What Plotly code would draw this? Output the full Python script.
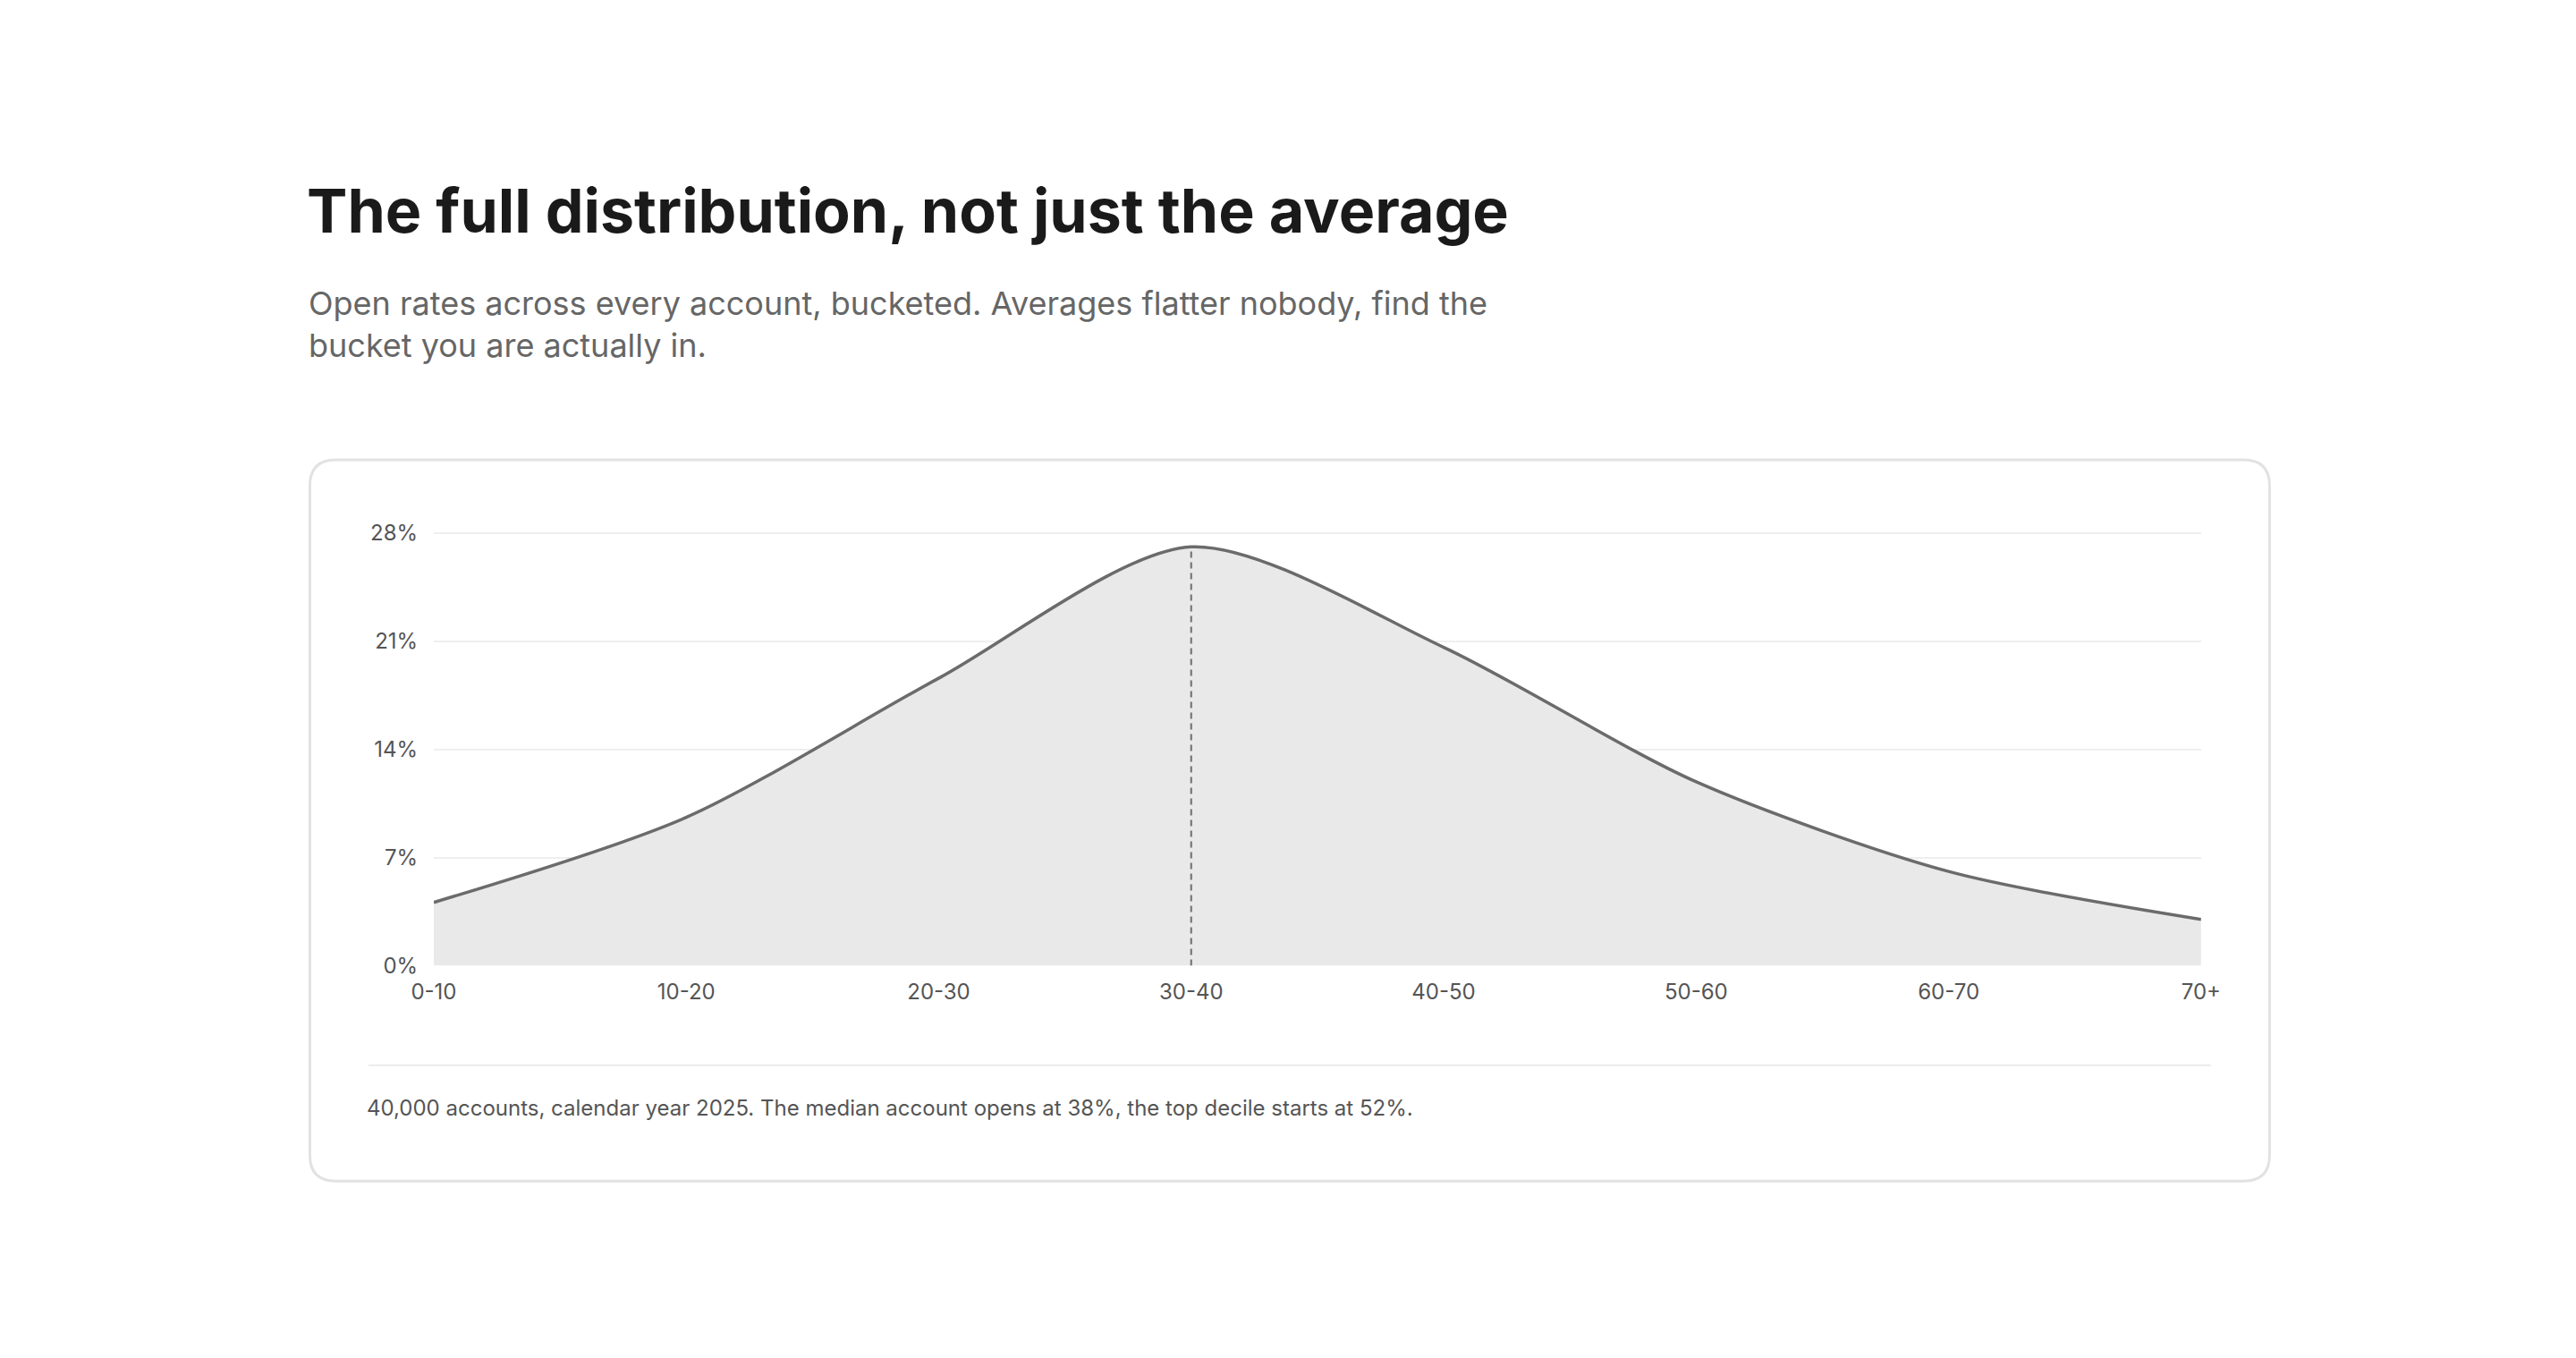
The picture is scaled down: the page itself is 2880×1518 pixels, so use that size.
import plotly.graph_objects as go

# open-rate buckets and share of accounts (%)
buckets = ["0-10", "10-20", "20-30", "30-40", "40-50", "50-60", "60-70", "70+"]
share = [4.1, 9.6, 18.6, 27.1, 20.6, 11.9, 6.1, 3.0]
y_ticks = [0, 7, 14, 21, 28]
median_bucket = "30-40"

W, H = 1550, 817  # reference layout units
px = lambda v: ((v - 11.6) / 0.9967) / W
py = lambda v: 1 - ((v - 6) / 0.993) / H

xs = list(range(len(buckets)))
mx = buckets.index(median_bucket)

fig = go.Figure()
fig.add_scatter(
    x=xs, y=share, mode="lines", line=dict(color="#6b6b6b", width=3.5, shape="spline", smoothing=0.8),
    fill="tozeroy", fillcolor="#e9e9e9", hoverinfo="skip", showlegend=False,
)
fig.add_scatter(
    x=[mx, mx], y=[0, share[mx]], mode="lines",
    line=dict(color="#777777", width=2.2, dash="7px,5px"), hoverinfo="skip", showlegend=False,
)

# card with rounded corners
x0, x1, y0, y1 = px(183), px(1385), py(721), py(279)
rx, ry = 16 / W, 16 / H
card = (f"M{x0+rx},{y1} L{x1-rx},{y1} Q{x1},{y1} {x1},{y1-ry} L{x1},{y0+ry} Q{x1},{y0} {x1-rx},{y0} "
        f"L{x0+rx},{y0} Q{x0},{y0} {x0},{y0+ry} L{x0},{y1-ry} Q{x0},{y1} {x0+rx},{y1} Z")

fig.update_layout(
    paper_bgcolor="white", plot_bgcolor="white",
    margin=dict(l=0, r=0, t=0, b=0),
    font=dict(family="Inter, sans-serif", color="#555555"),
    xaxis=dict(domain=[px(259), px(1343)], range=[0, len(buckets) - 1], tickvals=xs, ticktext=buckets,
               showgrid=False, zeroline=False, showline=False, ticks="outside", ticklen=8,
               tickcolor="rgba(0,0,0,0)", tickfont=dict(size=24, color="#555")),
    yaxis=dict(domain=[py(589), py(320)], range=[0, 28.4], tickvals=y_ticks,
               ticktext=[f"{v}%" for v in y_ticks], showgrid=True, gridcolor="#efefef", gridwidth=2,
               zeroline=False, ticks="outside", ticklen=12, tickcolor="rgba(0,0,0,0)",
               tickfont=dict(size=24, color="#555")),
    shapes=[
        dict(type="path", path=card, xref="paper", yref="paper",
             line=dict(color="#e2e2e2", width=3), layer="below"),
        dict(type="line", xref="paper", yref="paper", x0=px(219), x1=px(1349), y0=py(650), y1=py(650),
             line=dict(color="#ebebeb", width=2)),
    ],
    annotations=[
        dict(text="<b>The full distribution, not just the average</b>", xref="paper", yref="paper",
             x=px(180), y=py(126), xanchor="left", yanchor="middle", showarrow=False,
             font=dict(size=68, color="#1a1a1a")),
        dict(text="Open rates across every account, bucketed. Averages flatter nobody, find the<br>bucket you are actually in.",
             xref="paper", yref="paper", x=px(181), y=py(196), xanchor="left", yanchor="middle",
             align="left", showarrow=False, font=dict(size=36, color="#666666")),
        dict(text="40,000 accounts, calendar year 2025. The median account opens at 38%, the top decile starts at 52%.",
             xref="paper", yref="paper", x=px(217), y=py(676), xanchor="left", yanchor="middle",
             showarrow=False, font=dict(size=24, color="#555555")),
    ],
)

fig.write_html("out.html", config={"displayModeBar": False})
